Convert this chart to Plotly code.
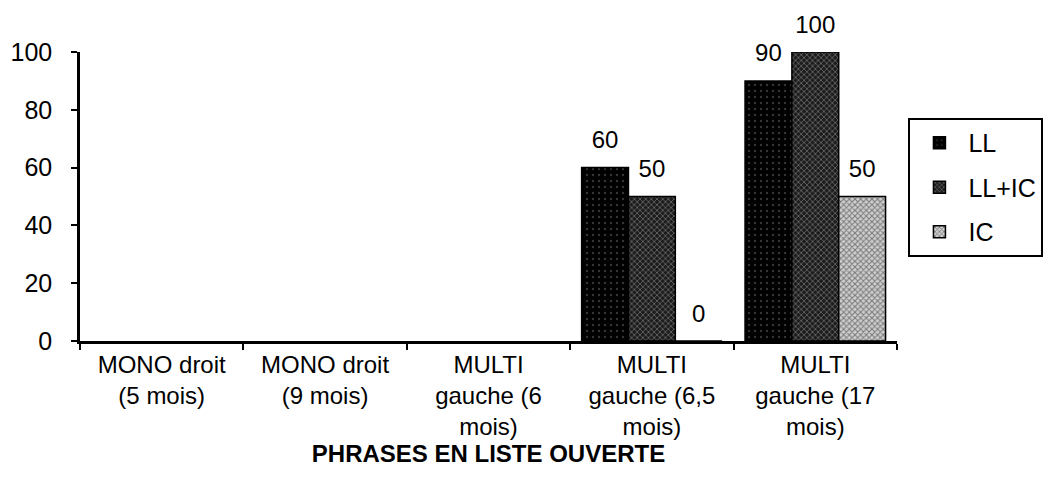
import plotly.graph_objects as go

# Categories (patients / delay after implantation) and scores per condition
categories = [
    "MONO droit<br>(5 mois)",
    "MONO droit<br>(9 mois)",
    "MULTI<br>gauche (6<br>mois)",
    "MULTI<br>gauche (6,5<br>mois)",
    "MULTI<br>gauche (17<br>mois)",
]
ll_values = [None, None, None, 60, 90]
llic_values = [None, None, None, 50, 100]
ic_values = [None, None, None, 0, 50]

series_names = ["LL", "LL+IC", "IC"]
series_values = [ll_values, llic_values, ic_values]

FONT = "Liberation Sans, Arial, Helvetica, sans-serif"

# Halftone-like fills for the three conditions
patterns = [
    dict(shape=".", bgcolor="#000000", fgcolor="#6a6a6a", size=6, solidity=0.12),
    dict(shape="x", bgcolor="#1c1c1c", fgcolor="#cfcfcf", size=4, solidity=0.32),
    dict(shape="x", bgcolor="#cfcfcf", fgcolor="#222222", size=4, solidity=0.45),
]

fig = go.Figure()

for i, (name, vals) in enumerate(zip(series_names, series_values)):
    fig.add_trace(go.Bar(
        x=categories, y=vals, name=name,
        offsetgroup=str(i), legendgroup=name,
        marker=dict(color=patterns[i]["bgcolor"], pattern=patterns[i],
                    line=dict(color="black", width=1.5)),
        cliponaxis=False,
    ))

# Value labels above each bar
for i, (name, vals) in enumerate(zip(series_names, series_values)):
    fig.add_trace(go.Scatter(
        x=categories, y=vals, mode="markers+text",
        offsetgroup=str(i), showlegend=False, hoverinfo="skip",
        text=[("" if v is None else str(v)) for v in vals],
        textposition="top center",
        textfont=dict(family=FONT, size=24, color="black"),
        marker=dict(size=20, color="rgba(0,0,0,0)"),
        cliponaxis=False,
    ))

fig.update_layout(
    width=1059, height=483,
    paper_bgcolor="white", plot_bgcolor="white",
    margin=dict(l=80, r=162, t=52, b=142),
    barmode="group", bargap=0.14, bargroupgap=0,
    scattermode="group", scattergap=0.14,
    font=dict(family=FONT, size=25, color="black"),
    legend=dict(
        x=1.014, y=0.772, xanchor="left", yanchor="top",
        bordercolor="black", borderwidth=2, bgcolor="white",
        font=dict(family=FONT, size=25), tracegroupgap=9,
        itemwidth=48, traceorder="grouped",
    ),
    showlegend=True,
)

fig.update_xaxes(
    showline=True, linecolor="black", linewidth=2.5,
    ticks="outside", tickson="boundaries", ticklen=6, tickwidth=2, tickcolor="black",
    showgrid=False, zeroline=False,
    tickfont=dict(family=FONT, size=24),
    title=dict(text="<b>PHRASES EN LISTE OUVERTE</b>", font=dict(family=FONT, size=24), standoff=0),
)
fig.update_yaxes(
    range=[0, 100], tickvals=[0, 20, 40, 60, 80, 100],
    showline=True, linecolor="black", linewidth=2.5,
    ticks="outside", ticklen=6, tickwidth=2, tickcolor="black",
    showgrid=False, zeroline=False,
    tickfont=dict(family=FONT, size=25),
    ticklabelstandoff=14,
)

fig.write_html("out.html")
